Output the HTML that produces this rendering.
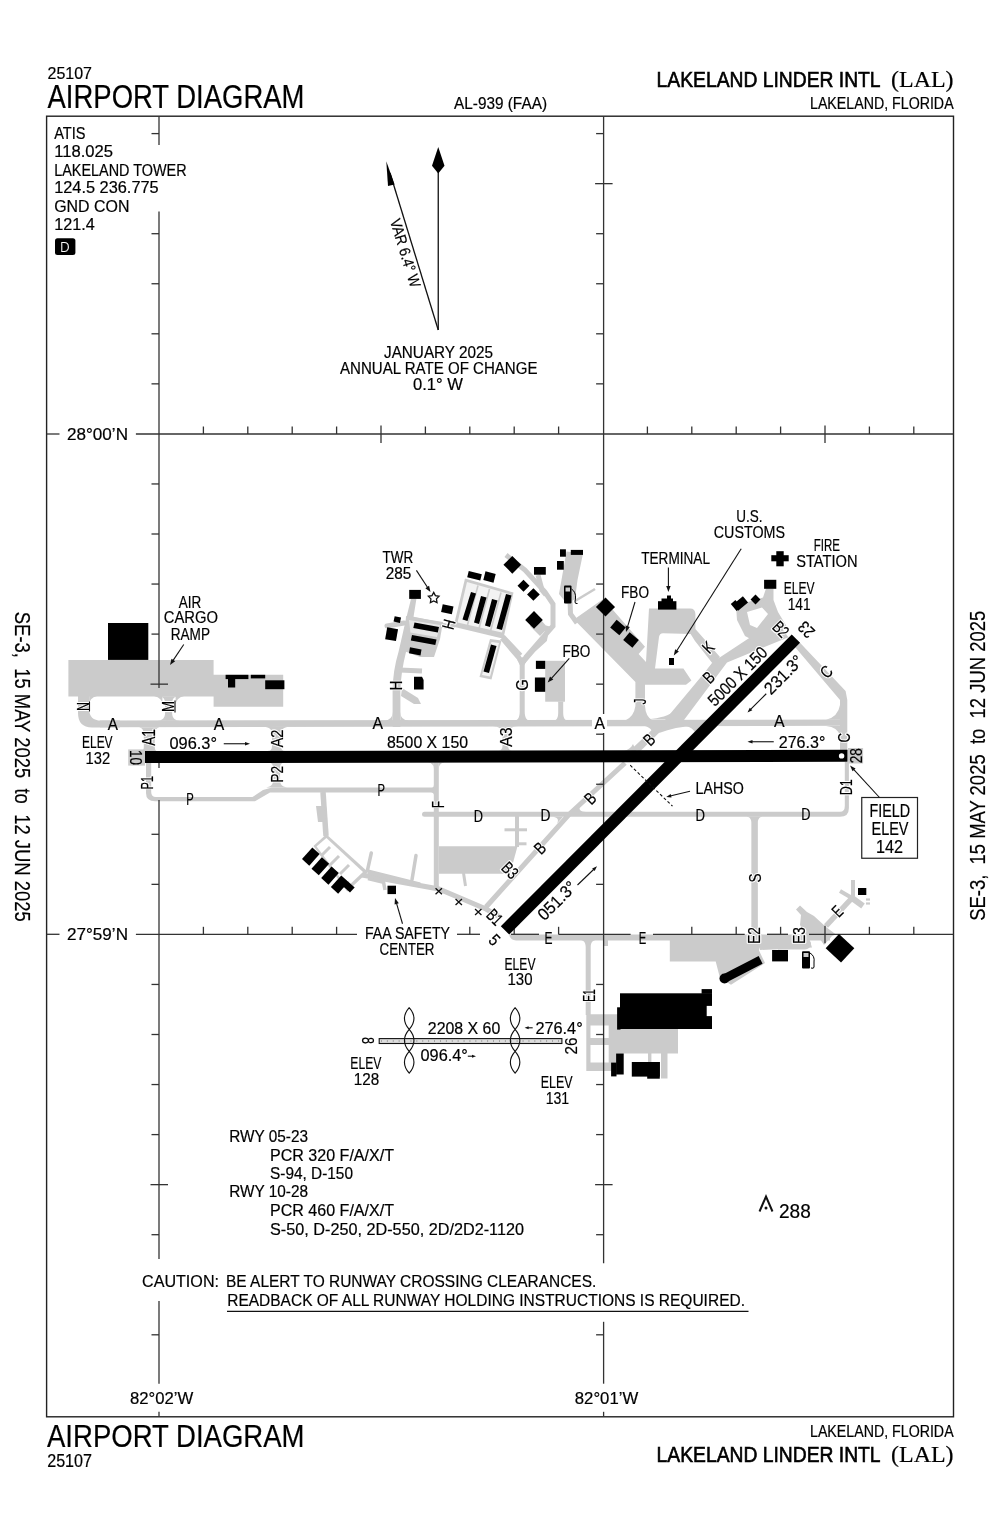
<!DOCTYPE html>
<html><head><meta charset="utf-8">
<style>
html,body{margin:0;padding:0;background:#fff;width:1000px;height:1533px;overflow:hidden}
svg{display:block;will-change:transform}
text{font-family:"Liberation Sans",sans-serif;fill:#000;stroke:#000;stroke-width:0.2px}
text.h{fill:#fff;stroke:#fff;stroke-width:2.6px;stroke-linejoin:round}
.g{fill:#cbcbcb}
.b{fill:#000}
.w{fill:#fff}
</style></head>
<body>
<svg width="1000" height="1533" viewBox="0 0 1000 1533">
<text x="47.5" y="78.5" font-size="17.3" textLength="44.5" lengthAdjust="spacingAndGlyphs">25107</text>
<text x="47.5" y="108.4" font-size="32.56" textLength="257.0" lengthAdjust="spacingAndGlyphs">AIRPORT DIAGRAM</text>
<text x="454" y="108.6" font-size="15.99" textLength="93" lengthAdjust="spacingAndGlyphs">AL-939 (FAA)</text>
<text x="656.6" y="87.2" font-size="22.67" textLength="224.0" lengthAdjust="spacingAndGlyphs" style="stroke-width:0.65px">LAKELAND LINDER INTL</text>
<text x="891" y="87.2" font-size="22.67" textLength="62.6" lengthAdjust="spacingAndGlyphs" style="font-family:'Liberation Serif',serif">(LAL)</text>
<text x="810" y="108.6" font-size="15.7" textLength="143.6" lengthAdjust="spacingAndGlyphs">LAKELAND, FLORIDA</text>
<text x="47" y="1447" font-size="31.25" textLength="257.5" lengthAdjust="spacingAndGlyphs">AIRPORT DIAGRAM</text>
<text x="47.2" y="1467" font-size="17.44" textLength="44.8" lengthAdjust="spacingAndGlyphs">25107</text>
<text x="810" y="1436.8" font-size="15.7" textLength="143.6" lengthAdjust="spacingAndGlyphs">LAKELAND, FLORIDA</text>
<text x="656.6" y="1461.6" font-size="22.67" textLength="224.0" lengthAdjust="spacingAndGlyphs" style="stroke-width:0.65px">LAKELAND LINDER INTL</text>
<text x="891" y="1461.6" font-size="22.67" textLength="62.6" lengthAdjust="spacingAndGlyphs" style="font-family:'Liberation Serif',serif">(LAL)</text>
<text transform="translate(14.6,611.8) rotate(90)" font-size="22.3" textLength="310" lengthAdjust="spacingAndGlyphs" xml:space="preserve">SE-3,  15 MAY 2025  to  12 JUN 2025</text>
<text transform="translate(985,920.8) rotate(-90)" font-size="21.5" textLength="310" lengthAdjust="spacingAndGlyphs" xml:space="preserve">SE-3,  15 MAY 2025  to  12 JUN 2025</text>
<rect x="46.6" y="116.2" width="906.9" height="1300.6" fill="none" stroke="#222" stroke-width="1.4"/>
<path d="M68.4,659.9 L213.6,659.9 L213.6,674.8 L283.2,674.8 L283.2,706.7 L213.6,706.7 L213.6,696.4 L68.4,696.4 Z" fill="#cbcbcb"/>
<path d="M78,690 L89.2,690 L89.2,709 Q89.2,720.6 101,720.6 L120,720.6 L120,727.4 L92,727.4 Q78,727.4 78,713 Z" fill="#cbcbcb"/>
<path d="M89.2,696 L97,696 Q89.2,698 89.2,705 Z" fill="#cbcbcb"/>
<path d="M162.4,696 L154,696 Q162.4,698 162.4,705 Z" fill="#cbcbcb"/>
<path d="M158.10,696.20 C162.65,696.20 165.10,698.65 165.10,703.20 L165.10,712.80 C165.10,718.00 162.30,720.80 157.10,720.80 L180.10,720.80 C174.90,720.80 172.10,718.00 172.10,712.80 L172.10,703.20 C172.10,698.65 174.55,696.20 179.10,696.20 Z" fill="#cbcbcb"/>
<path d="M175.6,696 L184,696 Q176,698 175.6,705 Z" fill="#cbcbcb"/>
<path d="M100,720.5713914174253 L846,719.6013003901171 L846,725.8020806241872 L100,727.3542262678803 Z" fill="#cbcbcb"/>
<path d="M137.80,727.30 C141.70,727.30 143.80,729.75 143.80,734.30 L143.80,747.30 C143.80,749.90 142.75,751.30 140.80,751.30 L157.80,751.30 C155.85,751.30 154.80,749.90 154.80,747.30 L154.80,734.30 C154.80,729.75 156.90,727.30 160.80,727.30 Z" fill="#cbcbcb"/>
<path d="M264.00,726.90 C269.20,726.90 272.00,729.35 272.00,733.90 L272.00,746.10 C272.00,749.35 270.60,751.10 268.00,751.10 L285.00,751.10 C282.40,751.10 281.00,749.35 281.00,746.10 L281.00,733.90 C281.00,729.35 283.80,726.90 289.00,726.90 Z" fill="#cbcbcb"/>
<path d="M492.55,726.20 C499.05,726.20 502.55,729.00 502.55,734.20 L502.55,745.60 C502.55,748.85 501.15,750.60 498.55,750.60 L512.05,750.60 C509.45,750.60 508.05,748.85 508.05,745.60 L508.05,734.20 C508.05,729.00 511.55,726.20 518.05,726.20 Z" fill="#cbcbcb"/>
<path d="M269.10,762.80 C271.70,762.80 273.10,764.55 273.10,767.80 L273.10,780.60 C273.10,785.15 269.95,787.60 264.10,787.60 L289.10,787.60 C283.25,787.60 280.10,785.15 280.10,780.60 L280.10,767.80 C280.10,764.55 281.50,762.80 284.10,762.80 Z" fill="#cbcbcb"/>
<path d="M146,763 L151.2,763 L151.2,792 Q151.2,797 156,797 L252.5,797 L263,790 L272,787.5 L432,787.5 Q433.8,787.5 433.8,785 L433.8,762.5 L438.8,762.5 L438.8,889 L433.8,889 L433.8,795 Q433.8,792.5 431,792.5 L270,792.5 L255,801.3 L155,801.3 Q146,801.3 146,793 Z" fill="#cbcbcb"/>
<path d="M428,762.5 Q433.8,763 433.8,769 L433.8,762.5 Z" fill="#cbcbcb"/>
<path d="M438.8,769 Q438.8,763 444.5,762.5 L438.8,762.5 Z" fill="#cbcbcb"/>
<path d="M128.2,749.4 L145,749.4 L145,765.6 L128.2,765.6 Z" fill="#cbcbcb"/>
<path d="M392.6,727 L392.6,690 Q393,670 398.5,652 L406.5,617 L411,599 L416.4,599 L413.5,617 L406,652 Q401,672 400.4,690 L400.4,727 Z" fill="#cbcbcb"/>
<path d="M384,721 L392.6,721 L392.6,712 Q392.6,720 384,721 Z" fill="#cbcbcb"/>
<path d="M400.4,712 Q400.4,720 409,721 L400.4,721 Z" fill="#cbcbcb"/>
<path d="M387.00,626.00 L404.00,623.00" fill="none" stroke="#cbcbcb" stroke-width="5" stroke-linecap="round" stroke-linejoin="miter"/>
<path d="M412.00,619.00 L446.00,626.00 L455.00,626.50" fill="none" stroke="#cbcbcb" stroke-width="5" stroke-linecap="butt" stroke-linejoin="miter"/>
<path d="M406,616 L443,622 L440,639 L434,657 L420,657 L404,651 Z" fill="#cbcbcb"/>
<path d="M409,620 L440,625 L437,637 L410.5,632.5 Z" fill="#fff" opacity="0.55"/>
<path d="M399.50,670.00 L422.00,671.00" fill="none" stroke="#cbcbcb" stroke-width="5" stroke-linecap="butt" stroke-linejoin="miter"/>
<path d="M402,688 L418,698 L421,704 L414,704 L401,696 Z" fill="#cbcbcb"/>
<path d="M465,578.5 L513.5,592.5 L504,636 L454,625 Z" fill="#cbcbcb"/>
<path d="M467,582 L510.5,594.5 L502,632.5 L457.5,622.5 Z" fill="#f3f3f3"/>
<path d="M478.00,585.50 L467.50,625.00" fill="none" stroke="#cbcbcb" stroke-width="1.6" stroke-linecap="butt" stroke-linejoin="miter"/>
<path d="M489.50,589.00 L479.00,628.50" fill="none" stroke="#cbcbcb" stroke-width="1.6" stroke-linecap="butt" stroke-linejoin="miter"/>
<path d="M501.00,592.50 L490.50,631.00" fill="none" stroke="#cbcbcb" stroke-width="1.6" stroke-linecap="butt" stroke-linejoin="miter"/>
<path d="M454.00,625.00 L504.00,637.00 L521.00,655.00" fill="none" stroke="#cbcbcb" stroke-width="3.6" stroke-linecap="butt" stroke-linejoin="miter"/>
<circle cx="522.2" cy="660.5" r="3.2" fill="#cbcbcb"/>
<path d="M490,639 L501.5,640.5 L491.5,679.5 L479.5,677 Z" fill="#cbcbcb"/>
<path d="M491.5,642 L499,643 L490,676.5 L482,675 Z" fill="#f3f3f3"/>
<path d="M513.70,660.00 C517.60,660.00 519.70,660.35 519.70,661.00 L519.70,711.80 C519.70,717.65 517.60,720.80 513.70,720.80 L530.70,720.80 C526.80,720.80 524.70,717.65 524.70,711.80 L524.70,661.00 C524.70,660.35 526.80,660.00 530.70,660.00 Z" fill="#cbcbcb"/>
<path d="M522.00,664.00 L519.00,658.00 L502.00,638.00" fill="none" stroke="#cbcbcb" stroke-width="5" stroke-linecap="butt" stroke-linejoin="miter"/>
<path d="M522.00,664.00 L526.00,657.00 L546.00,634.00 L553.00,626.00 L553.00,604.00 L545.00,592.00 L525.00,570.00 L506.00,555.00" fill="none" stroke="#cbcbcb" stroke-width="5" stroke-linecap="butt" stroke-linejoin="miter"/>
<path d="M522.00,664.00 L534.00,650.00 L545.00,640.00 L548.00,626.00" fill="none" stroke="#cbcbcb" stroke-width="4" stroke-linecap="butt" stroke-linejoin="miter"/>
<path d="M538.00,575.00 L542.00,590.00 L546.00,595.00" fill="none" stroke="#cbcbcb" stroke-width="5" stroke-linecap="butt" stroke-linejoin="miter"/>
<path d="M534,612 L548,628 L540,636 L530,626 Z" fill="#cbcbcb"/>
<path d="M566.5,551.5 L583,553.5 L577.5,580 L575,599 L567,604 L559,594 Z" fill="#cbcbcb"/>
<path d="M570.00,600.00 L570.50,614.00 L577.00,623.00" fill="none" stroke="#cbcbcb" stroke-width="5" stroke-linecap="butt" stroke-linejoin="miter"/>
<path d="M575.00,601.00 L595.00,589.00" fill="none" stroke="#cbcbcb" stroke-width="2.6" stroke-linecap="butt" stroke-linejoin="miter"/>
<rect x="545.20" y="660.80" width="19.80" height="40.90" class="g"/>
<path d="M557.20,701.50 C557.85,701.50 558.20,701.85 558.20,702.50 L558.20,712.80 C558.20,718.00 556.45,720.80 553.20,720.80 L568.20,720.80 C564.95,720.80 563.20,718.00 563.20,712.80 L563.20,702.50 C563.20,701.85 563.55,701.50 564.20,701.50 Z" fill="#cbcbcb"/>
<path d="M574,619.5 L596,604 L603.4,599 L645,646.8 L638.6,654 L646,662 L649,608.4 L690,608.4 Q695.4,608.4 695.4,614 L695.4,629 L720,657 L713,664 L695,641 L690.6,634 L663,633.2 Q659.5,633.2 659,637 L655,668.4 L683.4,668.4 L691.4,680.4 L686,684.8 L645,684.8 L645,706 Q645.5,716 652,720 L626,720 Q634,716 635.4,706 L635.4,682 L574,619.5 Z" fill="#cbcbcb"/>
<path d="M665,720 L684,720 L727,662.4 L788.4,637.2 L776,620.4 L714,661.2 Z" fill="#cbcbcb"/>
<path d="M672.50,722.00 L720.00,660.00" fill="none" stroke="#cbcbcb" stroke-width="9" stroke-linecap="butt" stroke-linejoin="miter"/>
<path d="M630,750.6 L641,750.6 L666,725.9 L656,725.9 Z" fill="#cbcbcb"/>
<path d="M645,725.9 L657,725.9 L652,731 C650,728 648,726.5 645,725.9 Z" fill="#cbcbcb"/>
<path d="M662,725.9 L693,725.9 C682,726.5 670,728.5 659,733 Z" fill="#cbcbcb"/>
<path d="M644,719.6 L668,719.6 L673,712 C666,717 656,718.8 644,719.6 Z" fill="#cbcbcb"/>
<path d="M624,750.6 L636,750.6 L633,744 C631,748 628,750 624,750.6 Z" fill="#cbcbcb"/>
<path d="M686,725.9 L703,725.9 L702,734 L696,734 C694,729 690,727 686,725.9 Z" fill="#cbcbcb"/>
<path d="M736,606 L748,602 L763,597.5 L766,588.5 L773.5,588.5 L773.5,600 L778,612 L787,627 L760,644 L745,636 L737,620 Z M747,612 L762,607.5 L768,614 L757,628 L750,625 Z" fill="#cbcbcb" fill-rule="evenodd"/>
<path d="M795,646.9 L800,642.8 L845.6,691 L847.3,700 L847.3,751 L840,751 L840,700 Z" fill="#cbcbcb"/>
<path d="M826,719.8 Q838,717 840,705 L840,719.8 Z" fill="#cbcbcb"/>
<path d="M826,725.9 L840,725.9 L840,736 Q838,727 826,725.9 Z" fill="#cbcbcb"/>
<path d="M433.8,811.8 L840,811.8 Q844.8,811.8 844.8,806 L844.8,762 L848.9,762 L848.9,808 Q848.9,816.8 840,816.8 L433.8,816.8 Z" fill="#cbcbcb"/>
<path d="M424.50,814.30 L434.00,814.30" fill="none" stroke="#cbcbcb" stroke-width="5" stroke-linecap="round" stroke-linejoin="miter"/>
<path d="M625.00,763.00 L568.50,815.00 L486.00,907.00" fill="none" stroke="#cbcbcb" stroke-width="5" stroke-linecap="butt" stroke-linejoin="miter"/>
<path d="M574,811.9 L586,811.9 C580,811.9 578,809 580.5,805.5 Z" fill="#cbcbcb"/>
<path d="M563,816.8 L551,816.8 C557,816.8 559.5,819.5 557,823.5 Z" fill="#cbcbcb"/>
<path d="M438.8,846.3 L517.5,846.3 L510,873.8 L438.8,873.8 Z" fill="#cbcbcb"/>
<path d="M504.50,829.80 L527.00,829.80" fill="none" stroke="#cbcbcb" stroke-width="3" stroke-linecap="butt" stroke-linejoin="miter"/>
<path d="M517.00,843.80 L526.50,843.80" fill="none" stroke="#cbcbcb" stroke-width="3" stroke-linecap="butt" stroke-linejoin="miter"/>
<path d="M517.00,816.00 L517.00,847.00" fill="none" stroke="#cbcbcb" stroke-width="4" stroke-linecap="butt" stroke-linejoin="miter"/>
<path d="M463.50,873.00 L465.50,886.00" fill="none" stroke="#cbcbcb" stroke-width="3" stroke-linecap="butt" stroke-linejoin="miter"/>
<path d="M362.00,875.00 L438.80,889.00 L486.00,909.00 L500.00,917.00" fill="none" stroke="#cbcbcb" stroke-width="5" stroke-linecap="butt" stroke-linejoin="miter"/>
<path d="M367.40,870.70 L371.30,853.00" fill="none" stroke="#cbcbcb" stroke-width="3.5" stroke-linecap="round" stroke-linejoin="miter"/>
<path d="M412.00,879.80 L416.00,855.50" fill="none" stroke="#cbcbcb" stroke-width="3.5" stroke-linecap="round" stroke-linejoin="miter"/>
<path d="M368.00,878.50 L383.60,882.40 L385.00,890.00" fill="none" stroke="#cbcbcb" stroke-width="3.5" stroke-linecap="butt" stroke-linejoin="miter"/>
<path d="M313.4,846 L326.4,834.3 L368,872 L347.2,891.5 Z" fill="#cbcbcb"/>
<path d="M316.5,846.5 L326.4,838 L363,872 L347.2,887 Z" fill="#fff"/>
<path d="M330.00,847.00 L321.00,856.00" fill="none" stroke="#cbcbcb" stroke-width="3" stroke-linecap="butt" stroke-linejoin="miter"/>
<path d="M339.00,856.00 L330.00,865.00" fill="none" stroke="#cbcbcb" stroke-width="3" stroke-linecap="butt" stroke-linejoin="miter"/>
<path d="M349.00,865.00 L340.00,874.00" fill="none" stroke="#cbcbcb" stroke-width="3" stroke-linecap="butt" stroke-linejoin="miter"/>
<path d="M368.00,872.00 L420.00,885.00" fill="none" stroke="#cbcbcb" stroke-width="5" stroke-linecap="butt" stroke-linejoin="miter"/>
<path d="M323.00,792.00 L326.00,836.00" fill="none" stroke="#cbcbcb" stroke-width="5.5" stroke-linecap="butt" stroke-linejoin="miter"/>
<path d="M316,806 L324,806 L326,822 L318,822 Z" fill="#cbcbcb"/>
<path d="M745.35,816.50 C749.25,816.50 751.35,818.60 751.35,822.50 L751.35,928.80 C751.35,932.70 749.25,934.80 745.35,934.80 L763.85,934.80 C759.95,934.80 757.85,932.70 757.85,928.80 L757.85,822.50 C757.85,818.60 759.95,816.50 763.85,816.50 Z" fill="#cbcbcb"/>
<path d="M509.5,934.5 L830,934.5 L830,940.5 L516,940.5 Q511,940 509.5,936 Z" fill="#cbcbcb"/>
<path d="M579.70,940.00 C583.60,940.00 585.70,942.45 585.70,947.00 L585.70,1014.99 C585.70,1015.00 585.70,1015.00 585.69,1015.00 L590.71,1015.00 C590.70,1015.00 590.70,1015.00 590.70,1014.99 L590.70,947.00 C590.70,942.45 592.80,940.00 596.70,940.00 Z" fill="#cbcbcb"/>
<path d="M603.7,940 L608,940 L608,946 L603.7,946 Z" fill="#cbcbcb"/>
<path d="M669.8,936.6 L759,936.6 L759,950.6 L765,963 L731,984.7 L720,978 L715.7,961.4 L669.8,961.4 Z" fill="#cbcbcb"/>
<path d="M756,938 L809,938 L812,947.5 L760,950 Z" fill="#cbcbcb"/>
<path d="M796,909.5 L800,905.5 L807,912 L814,916 L826,927 L836,934.5 L832,936 L824,945 L818,936 L806,935 L800,925 L801,915 Z" fill="#cbcbcb"/>
<path d="M826.00,926.00 L852.00,898.00" fill="none" stroke="#cbcbcb" stroke-width="5.5" stroke-linecap="butt" stroke-linejoin="miter"/>
<path d="M853.00,898.00 L853.00,880.00" fill="none" stroke="#cbcbcb" stroke-width="4" stroke-linecap="butt" stroke-linejoin="miter"/>
<path d="M840.00,891.00 L852.00,898.00" fill="none" stroke="#cbcbcb" stroke-width="4" stroke-linecap="butt" stroke-linejoin="miter"/>
<path d="M852.00,898.00 L863.00,906.00" fill="none" stroke="#cbcbcb" stroke-width="6" stroke-linecap="butt" stroke-linejoin="miter"/>
<path d="M866.00,899.50 L870.00,899.50" fill="none" stroke="#cbcbcb" stroke-width="2.2" stroke-linecap="butt" stroke-linejoin="miter"/>
<path d="M866.00,903.50 L870.00,903.50" fill="none" stroke="#cbcbcb" stroke-width="2.2" stroke-linecap="butt" stroke-linejoin="miter"/>
<path d="M778,938.5 L806,938.5 Q811,940 811,944 Q810,949 805,949.5 L778,949.5 Z" fill="#cbcbcb"/>
<path d="M586.3,1014.3 L678,1014.3 L678,1053.5 L667.5,1053.5 L667.5,1078.5 L661,1078.5 L661,1053.5 L651.4,1053.5 L651.4,1062 L648,1062 L648,1053.5 L616,1053.5 L616,1071 L586.3,1071 Z M590.5,1025.5 L608.7,1025.5 L608.7,1038 L590.5,1038 Z M590.5,1045 L608.7,1045 L608.7,1062.6 L590.5,1062.6 Z" fill="#cbcbcb" fill-rule="evenodd"/>
<g stroke="#333" stroke-width="1.3" fill="none"><line x1="159" y1="116" x2="159" y2="145"/><line x1="159" y1="211.5" x2="159" y2="688"/><line x1="159" y1="763" x2="159" y2="768"/><line x1="159" y1="800" x2="159" y2="1259"/><line x1="159" y1="1301" x2="159" y2="1383.7"/><line x1="159" y1="1411.8" x2="159" y2="1417"/><line x1="603.6" y1="116" x2="603.6" y2="1263.3"/><line x1="603.6" y1="1321.8" x2="603.6" y2="1383.7"/><line x1="603.6" y1="1411.8" x2="603.6" y2="1417"/><line x1="46.6" y1="434" x2="59.5" y2="434"/><line x1="135.9" y1="434" x2="953.5" y2="434"/><line x1="46.6" y1="934.3" x2="59.5" y2="934.3"/><line x1="135.9" y1="934.3" x2="357" y2="934.3"/><line x1="457" y1="934.3" x2="480" y2="934.3"/><line x1="511" y1="934.3" x2="539" y2="934.3"/><line x1="558.5" y1="934.3" x2="630.6" y2="934.3"/><line x1="653" y1="934.3" x2="744.7" y2="934.3"/><line x1="767" y1="934.3" x2="788" y2="934.3"/><line x1="809" y1="934.3" x2="953.5" y2="934.3"/><line x1="151.5" y1="133.6" x2="159" y2="133.6"/><line x1="151.5" y1="233.7" x2="159" y2="233.7"/><line x1="151.5" y1="283.75" x2="159" y2="283.75"/><line x1="151.5" y1="333.8" x2="159" y2="333.8"/><line x1="151.5" y1="383.85" x2="159" y2="383.85"/><line x1="151.5" y1="483.95" x2="159" y2="483.95"/><line x1="151.5" y1="534.0" x2="159" y2="534.0"/><line x1="151.5" y1="584.05" x2="159" y2="584.05"/><line x1="151.5" y1="634.1" x2="159" y2="634.1"/><line x1="150.5" y1="684.15" x2="168" y2="684.15"/><line x1="151.5" y1="834.3" x2="159" y2="834.3"/><line x1="151.5" y1="884.35" x2="159" y2="884.35"/><line x1="151.5" y1="984.45" x2="159" y2="984.45"/><line x1="151.5" y1="1034.5" x2="159" y2="1034.5"/><line x1="151.5" y1="1084.55" x2="159" y2="1084.55"/><line x1="151.5" y1="1134.6" x2="159" y2="1134.6"/><line x1="150.5" y1="1184.65" x2="168" y2="1184.65"/><line x1="151.5" y1="1234.7" x2="159" y2="1234.7"/><line x1="151.5" y1="1334.8" x2="159" y2="1334.8"/><line x1="596.1" y1="133.6" x2="603.6" y2="133.6"/><line x1="595.1" y1="183.65" x2="612.6" y2="183.65"/><line x1="596.1" y1="233.7" x2="603.6" y2="233.7"/><line x1="596.1" y1="283.75" x2="603.6" y2="283.75"/><line x1="596.1" y1="333.8" x2="603.6" y2="333.8"/><line x1="596.1" y1="383.85" x2="603.6" y2="383.85"/><line x1="596.1" y1="483.95" x2="603.6" y2="483.95"/><line x1="596.1" y1="534.0" x2="603.6" y2="534.0"/><line x1="596.1" y1="584.05" x2="603.6" y2="584.05"/><line x1="596.1" y1="634.1" x2="603.6" y2="634.1"/><line x1="596.1" y1="684.15" x2="603.6" y2="684.15"/><line x1="596.1" y1="734.2" x2="603.6" y2="734.2"/><line x1="596.1" y1="784.25" x2="603.6" y2="784.25"/><line x1="596.1" y1="834.3" x2="603.6" y2="834.3"/><line x1="596.1" y1="884.35" x2="603.6" y2="884.35"/><line x1="596.1" y1="984.45" x2="603.6" y2="984.45"/><line x1="596.1" y1="1034.5" x2="603.6" y2="1034.5"/><line x1="596.1" y1="1084.55" x2="603.6" y2="1084.55"/><line x1="596.1" y1="1134.6" x2="603.6" y2="1134.6"/><line x1="595.1" y1="1184.65" x2="612.6" y2="1184.65"/><line x1="596.1" y1="1234.7" x2="603.6" y2="1234.7"/><line x1="596.1" y1="1334.8" x2="603.6" y2="1334.8"/><line x1="203.4" y1="426.5" x2="203.4" y2="434"/><line x1="247.8" y1="426.5" x2="247.8" y2="434"/><line x1="292.2" y1="426.5" x2="292.2" y2="434"/><line x1="336.6" y1="426.5" x2="336.6" y2="434"/><line x1="381.0" y1="425.5" x2="381.0" y2="443"/><line x1="425.4" y1="426.5" x2="425.4" y2="434"/><line x1="469.8" y1="426.5" x2="469.8" y2="434"/><line x1="514.2" y1="426.5" x2="514.2" y2="434"/><line x1="558.6" y1="426.5" x2="558.6" y2="434"/><line x1="647.4" y1="426.5" x2="647.4" y2="434"/><line x1="691.8" y1="426.5" x2="691.8" y2="434"/><line x1="736.2" y1="426.5" x2="736.2" y2="434"/><line x1="780.6" y1="426.5" x2="780.6" y2="434"/><line x1="825.0" y1="425.5" x2="825.0" y2="443"/><line x1="869.4" y1="426.5" x2="869.4" y2="434"/><line x1="913.8" y1="426.5" x2="913.8" y2="434"/><line x1="203.4" y1="926.8" x2="203.4" y2="934.3"/><line x1="247.8" y1="926.8" x2="247.8" y2="934.3"/><line x1="292.2" y1="926.8" x2="292.2" y2="934.3"/><line x1="336.6" y1="926.8" x2="336.6" y2="934.3"/><line x1="469.8" y1="926.8" x2="469.8" y2="934.3"/><line x1="514.2" y1="926.8" x2="514.2" y2="934.3"/><line x1="558.6" y1="926.8" x2="558.6" y2="934.3"/><line x1="691.8" y1="926.8" x2="691.8" y2="934.3"/><line x1="736.2" y1="926.8" x2="736.2" y2="934.3"/><line x1="780.6" y1="926.8" x2="780.6" y2="934.3"/><line x1="825.0" y1="925.8" x2="825.0" y2="943.3"/><line x1="869.4" y1="926.8" x2="869.4" y2="934.3"/><line x1="913.8" y1="926.8" x2="913.8" y2="934.3"/></g>
<rect x="108.00" y="623.00" width="40.30" height="36.90" class="b"/>
<rect x="225.60" y="674.80" width="22.80" height="4.30" class="b"/>
<rect x="228.00" y="679.00" width="7.20" height="8.50" class="b"/>
<rect x="250.80" y="674.80" width="14.40" height="3.60" class="b"/>
<rect x="265.20" y="680.30" width="19.20" height="8.90" class="b"/>
<polygon points="145,751.10 847.5,749.80 847.5,761.80 145,763.10" fill="#000"/>
<circle cx="841.6" cy="755.9" r="2.7" fill="#fff"/>
<path d="M848,748 L863.1,748 L863.1,763.5 L848,763.5 Z" fill="#cbcbcb"/>
<polygon points="509.18,934.57 800.08,642.87 791.72,634.53 500.82,926.23" fill="#000"/>
<rect x="409.20" y="589.90" width="11.70" height="9.00" class="b"/>
<rect x="-5.50" y="-4.00" width="11.00" height="8.00" transform="translate(447.30,609.20) rotate(12)" fill="#000"/>
<rect x="-3.25" y="-2.75" width="6.50" height="5.50" transform="translate(397.30,619.60) rotate(12)" fill="#000"/>
<rect x="-5.50" y="-6.00" width="11.00" height="12.00" transform="translate(391.60,634.20) rotate(10)" fill="#000"/>
<polygon points="414.50,622.50 439.00,627.00 437.80,632.50 413.30,628.00" fill="#000"/>
<polygon points="412.00,635.00 436.50,639.50 435.30,645.00 410.80,640.50" fill="#000"/>
<polygon points="410.00,647.20 421.50,649.50 420.50,655.50 409.00,653.20" fill="#000"/>
<polygon points="414.00,676.80 422.00,676.80 423.60,680.00 423.60,689.60 414.00,689.60" fill="#000"/>
<polygon points="471.00,592.00 476.00,593.50 467.50,621.00 462.50,619.50" fill="#000"/>
<polygon points="481.00,596.00 486.50,597.50 479.00,624.00 474.00,622.50" fill="#000"/>
<polygon points="492.00,599.00 497.50,600.50 490.00,627.00 485.00,625.50" fill="#000"/>
<polygon points="506.00,594.00 511.50,595.50 502.00,630.00 496.50,628.50" fill="#000"/>
<polygon points="491.00,644.50 496.50,646.00 489.00,673.00 483.50,671.50" fill="#000"/>
<rect x="-6.75" y="-3.25" width="13.50" height="6.50" transform="translate(474.50,575.80) rotate(14)" fill="#000"/>
<rect x="-5.25" y="-4.50" width="10.50" height="9.00" transform="translate(489.50,577.00) rotate(14)" fill="#000"/>
<rect x="-6.25" y="-6.25" width="12.50" height="12.50" transform="translate(512.30,564.80) rotate(45)" fill="#000"/>
<rect x="-4.25" y="-4.25" width="8.50" height="8.50" transform="translate(523.50,585.80) rotate(45)" fill="#000"/>
<rect x="-4.50" y="-4.50" width="9.00" height="9.00" transform="translate(533.40,594.50) rotate(45)" fill="#000"/>
<rect x="-6.25" y="-6.25" width="12.50" height="12.50" transform="translate(534.00,619.90) rotate(45)" fill="#000"/>
<rect x="534.00" y="567.00" width="11.80" height="7.70" class="b"/>
<rect x="560.00" y="549.30" width="5.90" height="7.40" class="b"/>
<rect x="570.80" y="549.90" width="12.20" height="5.00" class="b"/>
<rect x="557.00" y="561.00" width="6.80" height="8.70" class="b"/>
<rect x="564" y="585.5" width="7.5" height="18" rx="1" fill="#000"/>
<rect x="565.5" y="587.5" width="4.5" height="4" fill="#ccc"/>
<path d="M571.5,589 Q576,592 575.5,598 L575,602 Q575,604 577.5,603.5" fill="none" stroke="#000" stroke-width="1"/>
<rect x="535.90" y="660.80" width="9.30" height="8.10" class="b"/>
<rect x="534.90" y="677.50" width="10.30" height="14.30" class="b"/>
<rect x="-6.75" y="-6.75" width="13.50" height="13.50" transform="translate(605.50,607.00) rotate(45)" fill="#000"/>
<rect x="-6.00" y="-5.00" width="12.00" height="10.00" transform="translate(618.00,627.50) rotate(40)" fill="#000"/>
<rect x="-6.00" y="-5.00" width="12.00" height="10.00" transform="translate(631.00,640.00) rotate(40)" fill="#000"/>
<rect x="658.00" y="601.20" width="18.40" height="8.40" class="b"/>
<rect x="661.50" y="598.50" width="11.50" height="4.50" class="b"/>
<rect x="667.00" y="595.50" width="4.00" height="3.50" class="b"/>
<rect x="669.00" y="658.00" width="5.00" height="7.00" class="b"/>
<rect x="764.10" y="579.80" width="12.20" height="9.00" class="b"/>
<rect x="-6.50" y="-4.00" width="13.00" height="8.00" transform="translate(740.50,603.50) rotate(-40)" fill="#000"/>
<rect x="-3.00" y="-4.50" width="6.00" height="9.00" transform="translate(736.00,605.50) rotate(-40)" fill="#000"/>
<rect x="-3.50" y="-3.50" width="7.00" height="7.00" transform="translate(755.50,599.50) rotate(45)" fill="#000"/>
<rect x="771.30" y="555.20" width="17.40" height="6.10" class="b"/>
<rect x="776.30" y="551.20" width="7.40" height="15.10" class="b"/>
<rect x="-7.75" y="-4.90" width="15.50" height="9.80" transform="translate(310.80,856.60) rotate(-48)" fill="#000"/>
<rect x="-7.75" y="-4.90" width="15.50" height="9.80" transform="translate(320.30,866.20) rotate(-48)" fill="#000"/>
<rect x="-7.75" y="-4.90" width="15.50" height="9.80" transform="translate(330.00,875.60) rotate(-48)" fill="#000"/>
<rect x="-7.75" y="-4.90" width="15.50" height="9.80" transform="translate(339.70,884.60) rotate(-48)" fill="#000"/>
<rect x="-3.50" y="-4.50" width="7.00" height="9.00" transform="translate(349.00,887.00) rotate(-48)" fill="#000"/>
<rect x="387.50" y="885.70" width="8.50" height="8.40" class="b"/>
<path d="M760.6,959.9 L723.4,979.1" stroke="#000" stroke-width="8.5" stroke-linecap="butt"/>
<circle cx="724.5" cy="978.5" r="5" fill="#000"/>
<rect x="772.10" y="950.00" width="15.90" height="11.40" class="b"/>
<rect x="-10.50" y="-9.75" width="21.00" height="19.50" transform="translate(840.00,948.20) rotate(43)" fill="#000"/>
<rect x="620.00" y="993.30" width="92.00" height="35.70" class="b"/>
<rect x="617.10" y="1007.30" width="3.40" height="22.30" class="b"/>
<rect x="701.60" y="989.10" width="10.40" height="4.70" class="b"/>
<rect x="706.7" y="1005.9" width="5.5" height="10.2" fill="#fff"/>
<rect x="616.10" y="1053.50" width="7.60" height="21.00" class="b"/>
<rect x="611.10" y="1062.60" width="5.40" height="13.80" class="b"/>
<rect x="631.80" y="1062.00" width="28.00" height="14.60" class="b"/>
<rect x="647.20" y="1062.00" width="12.60" height="16.70" class="b"/>
<rect x="858.00" y="888.00" width="8.30" height="7.00" class="b"/>
<rect x="802" y="951.2" width="8" height="17.4" rx="1" fill="#000"/>
<rect x="803.5" y="953" width="5" height="4" fill="#ccc"/>
<path d="M810,953 Q815,956 814,962 L814,967 Q814,969 811,968" fill="none" stroke="#000" stroke-width="1"/>
<text x="54.2" y="139.2" font-size="15.84" textLength="31.3" lengthAdjust="spacingAndGlyphs">ATIS</text>
<text x="54.2" y="157.3" font-size="15.84" textLength="58.8" lengthAdjust="spacingAndGlyphs">118.025</text>
<text x="54.2" y="175.5" font-size="15.99" textLength="132.4" lengthAdjust="spacingAndGlyphs">LAKELAND TOWER</text>
<text x="54.2" y="193.3" font-size="15.84" textLength="104.5" lengthAdjust="spacingAndGlyphs">124.5 236.775</text>
<text x="54.2" y="211.6" font-size="15.99" textLength="75.3" lengthAdjust="spacingAndGlyphs">GND CON</text>
<text x="54.2" y="229.9" font-size="16.13" textLength="40.6" lengthAdjust="spacingAndGlyphs">121.4</text>
<rect x="55" y="238.3" width="20.4" height="16.7" rx="2.5" fill="#000"/>
<text x="60" y="252" font-size="15" textLength="9.7" lengthAdjust="spacingAndGlyphs" style="fill:#fff">D</text>
<line x1="438.25" y1="172.00" x2="438.25" y2="330.00" stroke="#111" stroke-width="1.3"/>
<polygon points="438.25,147.00 444.50,165.80 438.25,173.50 432.00,165.80" class="b"/>
<line x1="438.25" y1="330.00" x2="390.00" y2="173.00" stroke="#111" stroke-width="1.3"/>
<polygon points="386.30,161.20 394.60,184.50 388.00,186.00" class="b"/>
<text transform="translate(405.3,253) rotate(72.9)" x="0" y="5.3" font-size="15.5" text-anchor="middle" textLength="71" lengthAdjust="spacingAndGlyphs">VAR 6.4° W</text>
<text x="384" y="357.5" font-size="16.72" textLength="109" lengthAdjust="spacingAndGlyphs">JANUARY 2025</text>
<text x="340" y="373.8" font-size="16.42" textLength="197.5" lengthAdjust="spacingAndGlyphs">ANNUAL RATE OF CHANGE</text>
<text x="413" y="390" font-size="16.28" textLength="50" lengthAdjust="spacingAndGlyphs">0.1° W</text>
<text x="67" y="439.5" font-size="15.99" textLength="61" lengthAdjust="spacingAndGlyphs">28°00’N</text>
<text x="67" y="939.8" font-size="15.99" textLength="61" lengthAdjust="spacingAndGlyphs">27°59’N</text>
<text x="130" y="1404.4" font-size="16.57" textLength="63.3" lengthAdjust="spacingAndGlyphs">82°02’W</text>
<text x="574.8" y="1404.4" font-size="16.57" textLength="63.4" lengthAdjust="spacingAndGlyphs">82°01’W</text>
<text x="229.2" y="1142" font-size="16.28" textLength="78.8" lengthAdjust="spacingAndGlyphs">RWY 05-23</text>
<text x="270" y="1160.8" font-size="16.28" textLength="124" lengthAdjust="spacingAndGlyphs">PCR 320 F/A/X/T</text>
<text x="270" y="1178.8" font-size="16.28" textLength="83" lengthAdjust="spacingAndGlyphs">S-94, D-150</text>
<text x="229.2" y="1197.2" font-size="16.28" textLength="78.8" lengthAdjust="spacingAndGlyphs">RWY 10-28</text>
<text x="270" y="1216" font-size="16.28" textLength="124" lengthAdjust="spacingAndGlyphs">PCR 460 F/A/X/T</text>
<text x="270" y="1234.8" font-size="16.28" textLength="254" lengthAdjust="spacingAndGlyphs">S-50, D-250, 2D-550, 2D/2D2-1120</text>
<text x="142" y="1286.8" font-size="17.15" textLength="77" lengthAdjust="spacingAndGlyphs">CAUTION:</text>
<text x="226" y="1286.8" font-size="17.15" textLength="370.3" lengthAdjust="spacingAndGlyphs">BE ALERT TO RUNWAY CROSSING CLEARANCES.</text>
<text x="227.2" y="1306" font-size="17.15" textLength="517.8" lengthAdjust="spacingAndGlyphs">READBACK OF ALL RUNWAY HOLDING INSTRUCTIONS IS REQUIRED.</text>
<line x1="227.00" y1="1311.30" x2="748.50" y2="1311.30" stroke="#111" stroke-width="1.2"/>
<path d="M759.5,1211.5 L766,1196.5 L772.5,1211.5" fill="none" stroke="#111" stroke-width="2"/>
<circle cx="766" cy="1208" r="1.5" fill="#111"/>
<text x="779" y="1217.8" font-size="19.33" textLength="31.8" lengthAdjust="spacingAndGlyphs">288</text>
<text x="178.75" y="607.9" font-size="17.15" textLength="22.5" lengthAdjust="spacingAndGlyphs">AIR</text>
<text x="163.75" y="623.4" font-size="17.15" textLength="54.25" lengthAdjust="spacingAndGlyphs">CARGO</text>
<text x="170.75" y="639.9" font-size="17.15" textLength="39.25" lengthAdjust="spacingAndGlyphs">RAMP</text>
<line x1="183.75" y1="644.50" x2="172.79" y2="660.85" stroke="#111" stroke-width="1.1"/>
<polygon points="170.00,665.00 171.52,658.79 175.17,661.24" fill="#111"/>
<text x="382.5" y="562.8" font-size="17.15" textLength="30.7" lengthAdjust="spacingAndGlyphs">TWR</text>
<text x="385.7" y="578.8" font-size="17.15" textLength="25.6" lengthAdjust="spacingAndGlyphs">285</text>
<line x1="416.40" y1="570.40" x2="427.77" y2="587.81" stroke="#111" stroke-width="1.1"/>
<polygon points="430.50,592.00 425.38,588.18 429.06,585.77" fill="#111"/>
<text x="562.5" y="656.9" font-size="17.15" textLength="27.9" lengthAdjust="spacingAndGlyphs">FBO</text>
<line x1="569.30" y1="658.30" x2="551.03" y2="678.77" stroke="#111" stroke-width="1.1"/>
<polygon points="547.70,682.50 550.05,676.56 553.34,679.49" fill="#111"/>
<text x="621" y="598.4" font-size="17.15" textLength="28" lengthAdjust="spacingAndGlyphs">FBO</text>
<line x1="635.00" y1="602.00" x2="627.44" y2="627.21" stroke="#111" stroke-width="1.1"/>
<polygon points="626.00,632.00 625.62,625.62 629.83,626.89" fill="#111"/>
<text x="641.25" y="564.15" font-size="17.15" textLength="68.75" lengthAdjust="spacingAndGlyphs">TERMINAL</text>
<line x1="668.40" y1="567.50" x2="668.40" y2="587.00" stroke="#111" stroke-width="1.1"/>
<polygon points="668.40,592.00 666.20,586.00 670.60,586.00" fill="#111"/>
<text x="736.25" y="522.4" font-size="17.15" textLength="26.25" lengthAdjust="spacingAndGlyphs">U.S.</text>
<text x="713.75" y="538.4" font-size="17.15" textLength="71.25" lengthAdjust="spacingAndGlyphs">CUSTOMS</text>
<line x1="741.20" y1="548.80" x2="676.47" y2="651.27" stroke="#111" stroke-width="1.1"/>
<polygon points="673.80,655.50 675.14,649.25 678.86,651.60" fill="#111"/>
<text x="813.75" y="551.15" font-size="17.15" textLength="26.25" lengthAdjust="spacingAndGlyphs">FIRE</text>
<text x="796.25" y="566.65" font-size="17.15" textLength="61.25" lengthAdjust="spacingAndGlyphs">STATION</text>
<text x="783.7" y="594.3" font-size="17.15" textLength="30.9" lengthAdjust="spacingAndGlyphs">ELEV</text>
<text x="787.7" y="609.8" font-size="17.15" textLength="22.9" lengthAdjust="spacingAndGlyphs">141</text>
<text x="82" y="748.0" font-size="17.15" textLength="30.6" lengthAdjust="spacingAndGlyphs">ELEV</text>
<text x="85.6" y="764.2" font-size="17.15" textLength="24.6" lengthAdjust="spacingAndGlyphs">132</text>
<text x="107.8" y="729.7" font-size="17.15" textLength="10.2" lengthAdjust="spacingAndGlyphs">A</text>
<text x="213.75" y="730.4" font-size="17.15" textLength="10.5" lengthAdjust="spacingAndGlyphs">A</text>
<text x="372.5" y="729.2" font-size="17.15" textLength="10.5" lengthAdjust="spacingAndGlyphs">A</text>
<rect x="592.00" y="714.00" width="15.00" height="19.00" class="w"/>
<text x="594.5" y="729.2" font-size="17.15" textLength="10.5" lengthAdjust="spacingAndGlyphs">A</text>
<text x="773.9" y="727.2" font-size="17.15" textLength="10.6" lengthAdjust="spacingAndGlyphs">A</text>
<text x="169.5" y="748.9" font-size="17.15" textLength="47.5" lengthAdjust="spacingAndGlyphs">096.3°</text>
<line x1="223.75" y1="743.75" x2="246.00" y2="743.75" stroke="#111" stroke-width="1.1"/>
<polygon points="250.00,743.75 245.00,745.55 245.00,741.95" fill="#111"/>
<text x="387" y="747.9" font-size="17.15" textLength="81" lengthAdjust="spacingAndGlyphs">8500 X 150</text>
<text x="778.8" y="747.6" font-size="17.15" textLength="46.5" lengthAdjust="spacingAndGlyphs">276.3°</text>
<line x1="773.75" y1="741.75" x2="751.50" y2="741.75" stroke="#111" stroke-width="1.1"/>
<polygon points="747.50,741.75 752.50,739.95 752.50,743.55" fill="#111"/>
<text x="186.25" y="805.4" font-size="17.15" textLength="7.5" lengthAdjust="spacingAndGlyphs">P</text>
<text x="377.5" y="795.9" font-size="17.15" textLength="7.5" lengthAdjust="spacingAndGlyphs">P</text>
<text x="473.75" y="821.6" font-size="17.15" textLength="9.25" lengthAdjust="spacingAndGlyphs">D</text>
<text x="540.5" y="820.9" font-size="17.15" textLength="10.0" lengthAdjust="spacingAndGlyphs">D</text>
<text x="695.5" y="820.9" font-size="17.15" textLength="9.5" lengthAdjust="spacingAndGlyphs">D</text>
<text x="801.25" y="820.2" font-size="17.15" textLength="9.25" lengthAdjust="spacingAndGlyphs">D</text>
<text x="544.5" y="943.9" font-size="17.15" textLength="8.0" lengthAdjust="spacingAndGlyphs">E</text>
<text x="638.75" y="943.9" font-size="17.15" textLength="7.5" lengthAdjust="spacingAndGlyphs">E</text>
<text x="695.5" y="793.9" font-size="17.15" textLength="48.25" lengthAdjust="spacingAndGlyphs">LAHSO</text>
<line x1="690.00" y1="791.25" x2="670.14" y2="796.06" stroke="#111" stroke-width="1.1"/>
<polygon points="666.25,797.00 670.69,794.07 671.53,797.57" fill="#111"/>
<text x="504.5" y="969.9" font-size="17.15" textLength="31.0" lengthAdjust="spacingAndGlyphs">ELEV</text>
<text x="507.5" y="985.4" font-size="17.15" textLength="25.0" lengthAdjust="spacingAndGlyphs">130</text>
<text x="365" y="939.15" font-size="17.15" textLength="85" lengthAdjust="spacingAndGlyphs">FAA SAFETY</text>
<text x="379.5" y="955.4" font-size="17.15" textLength="55.0" lengthAdjust="spacingAndGlyphs">CENTER</text>
<line x1="402.50" y1="923.75" x2="396.40" y2="902.80" stroke="#111" stroke-width="1.1"/>
<polygon points="395.00,898.00 398.79,903.15 394.57,904.38" fill="#111"/>
<text x="427.8" y="1034.4" font-size="17.15" textLength="72.5" lengthAdjust="spacingAndGlyphs">2208 X 60</text>
<text x="535.4" y="1034.4" font-size="17.15" textLength="47.3" lengthAdjust="spacingAndGlyphs">276.4°</text>
<line x1="532.70" y1="1027.80" x2="527.60" y2="1027.80" stroke="#111" stroke-width="1.1"/>
<polygon points="524.60,1027.80 528.60,1026.30 528.60,1029.30" fill="#111"/>
<text x="420.5" y="1061.2" font-size="17.15" textLength="47.3" lengthAdjust="spacingAndGlyphs">096.4°</text>
<line x1="467.80" y1="1056.20" x2="473.00" y2="1056.20" stroke="#111" stroke-width="1.1"/>
<polygon points="476.00,1056.20 472.00,1057.70 472.00,1054.70" fill="#111"/>
<text x="350.3" y="1068.8" font-size="17.15" textLength="31.1" lengthAdjust="spacingAndGlyphs">ELEV</text>
<text x="353.8" y="1085.0" font-size="17.15" textLength="25.4" lengthAdjust="spacingAndGlyphs">128</text>
<text x="540.8" y="1088.2" font-size="17.15" textLength="31.9" lengthAdjust="spacingAndGlyphs">ELEV</text>
<text x="545.7" y="1103.9" font-size="17.15" textLength="23.5" lengthAdjust="spacingAndGlyphs">131</text>
<rect x="861.75" y="797.5" width="55.75" height="60.75" fill="#fff" stroke="#222" stroke-width="1.2"/>
<text x="869.5" y="816.65" font-size="18.17" textLength="40.5" lengthAdjust="spacingAndGlyphs">FIELD</text>
<text x="871.5" y="835.4" font-size="18.17" textLength="37.0" lengthAdjust="spacingAndGlyphs">ELEV</text>
<text x="876" y="853.4" font-size="18.17" textLength="27" lengthAdjust="spacingAndGlyphs">142</text>
<line x1="879.50" y1="797.50" x2="853.39" y2="769.18" stroke="#111" stroke-width="1.1"/>
<polygon points="850.00,765.50 855.54,768.56 852.60,771.27" fill="#111"/>
<text transform="translate(83.40,706.60) rotate(-90)" x="0" y="5.90" font-size="17.15" text-anchor="middle" textLength="9" lengthAdjust="spacingAndGlyphs" class="h">N</text>
<text transform="translate(83.40,706.60) rotate(-90)" x="0" y="5.90" font-size="17.15" text-anchor="middle" textLength="9" lengthAdjust="spacingAndGlyphs">N</text>
<line x1="89.50" y1="701.50" x2="89.50" y2="711.50" stroke="#111" stroke-width="1.1"/>
<text transform="translate(168.00,706.50) rotate(-90)" x="0" y="5.90" font-size="17.15" text-anchor="middle" textLength="11" lengthAdjust="spacingAndGlyphs" class="h">M</text>
<text transform="translate(168.00,706.50) rotate(-90)" x="0" y="5.90" font-size="17.15" text-anchor="middle" textLength="11" lengthAdjust="spacingAndGlyphs">M</text>
<line x1="175.00" y1="700.50" x2="175.00" y2="712.50" stroke="#111" stroke-width="1.1"/>
<text transform="translate(148.90,737.50) rotate(-90)" x="0" y="6.00" font-size="17.44" text-anchor="middle" textLength="16.7" lengthAdjust="spacingAndGlyphs" class="h">A1</text>
<text transform="translate(148.90,737.50) rotate(-90)" x="0" y="6.00" font-size="17.44" text-anchor="middle" textLength="16.7" lengthAdjust="spacingAndGlyphs">A1</text>
<text transform="translate(277.50,738.50) rotate(-90)" x="0" y="5.90" font-size="17.15" text-anchor="middle" textLength="18" lengthAdjust="spacingAndGlyphs" class="h">A2</text>
<text transform="translate(277.50,738.50) rotate(-90)" x="0" y="5.90" font-size="17.15" text-anchor="middle" textLength="18" lengthAdjust="spacingAndGlyphs">A2</text>
<text transform="translate(506.00,737.20) rotate(-90)" x="0" y="5.90" font-size="17.15" text-anchor="middle" textLength="19.5" lengthAdjust="spacingAndGlyphs" class="h">A3</text>
<text transform="translate(506.00,737.20) rotate(-90)" x="0" y="5.90" font-size="17.15" text-anchor="middle" textLength="19.5" lengthAdjust="spacingAndGlyphs">A3</text>
<text transform="translate(146.90,782.70) rotate(-90)" x="0" y="5.90" font-size="17.15" text-anchor="middle" textLength="13" lengthAdjust="spacingAndGlyphs" class="h">P1</text>
<text transform="translate(146.90,782.70) rotate(-90)" x="0" y="5.90" font-size="17.15" text-anchor="middle" textLength="13" lengthAdjust="spacingAndGlyphs">P1</text>
<text transform="translate(277.50,774.20) rotate(-90)" x="0" y="5.90" font-size="17.15" text-anchor="middle" textLength="16.5" lengthAdjust="spacingAndGlyphs" class="h">P2</text>
<text transform="translate(277.50,774.20) rotate(-90)" x="0" y="5.90" font-size="17.15" text-anchor="middle" textLength="16.5" lengthAdjust="spacingAndGlyphs">P2</text>
<text transform="translate(135.60,757.50) rotate(90)" x="0" y="5.90" font-size="17.15" text-anchor="middle" textLength="15" lengthAdjust="spacingAndGlyphs">10</text>
<text transform="translate(855.60,755.70) rotate(-90)" x="0" y="5.90" font-size="17.15" text-anchor="middle" textLength="15" lengthAdjust="spacingAndGlyphs">28</text>
<text transform="translate(396.20,685.40) rotate(-90)" x="0" y="5.90" font-size="17.15" text-anchor="middle" textLength="9.5" lengthAdjust="spacingAndGlyphs" class="h">H</text>
<text transform="translate(396.20,685.40) rotate(-90)" x="0" y="5.90" font-size="17.15" text-anchor="middle" textLength="9.5" lengthAdjust="spacingAndGlyphs">H</text>
<text transform="translate(448.80,624.40) rotate(-75)" x="0" y="5.90" font-size="17.15" text-anchor="middle" textLength="9.5" lengthAdjust="spacingAndGlyphs" class="h">H</text>
<text transform="translate(448.80,624.40) rotate(-75)" x="0" y="5.90" font-size="17.15" text-anchor="middle" textLength="9.5" lengthAdjust="spacingAndGlyphs">H</text>
<text transform="translate(522.30,685.00) rotate(-90)" x="0" y="5.90" font-size="17.15" text-anchor="middle" textLength="11.5" lengthAdjust="spacingAndGlyphs" class="h">G</text>
<text transform="translate(522.30,685.00) rotate(-90)" x="0" y="5.90" font-size="17.15" text-anchor="middle" textLength="11.5" lengthAdjust="spacingAndGlyphs">G</text>
<text transform="translate(639.80,701.60) rotate(-90)" x="0" y="5.90" font-size="17.15" text-anchor="middle" textLength="6" lengthAdjust="spacingAndGlyphs" class="h">J</text>
<text transform="translate(639.80,701.60) rotate(-90)" x="0" y="5.90" font-size="17.15" text-anchor="middle" textLength="6" lengthAdjust="spacingAndGlyphs">J</text>
<text transform="translate(708.20,647.50) rotate(-45)" x="0" y="5.90" font-size="17.15" text-anchor="middle" textLength="9" lengthAdjust="spacingAndGlyphs" class="h">K</text>
<text transform="translate(708.20,647.50) rotate(-45)" x="0" y="5.90" font-size="17.15" text-anchor="middle" textLength="9" lengthAdjust="spacingAndGlyphs">K</text>
<text transform="translate(708.75,677.50) rotate(-45)" x="0" y="5.90" font-size="17.15" text-anchor="middle" textLength="9" lengthAdjust="spacingAndGlyphs" class="h">B</text>
<text transform="translate(708.75,677.50) rotate(-45)" x="0" y="5.90" font-size="17.15" text-anchor="middle" textLength="9" lengthAdjust="spacingAndGlyphs">B</text>
<text transform="translate(780.80,629.20) rotate(45)" x="0" y="5.90" font-size="17.15" text-anchor="middle" textLength="15.5" lengthAdjust="spacingAndGlyphs" class="h">B2</text>
<text transform="translate(780.80,629.20) rotate(45)" x="0" y="5.90" font-size="17.15" text-anchor="middle" textLength="15.5" lengthAdjust="spacingAndGlyphs">B2</text>
<text transform="translate(806.30,629.60) rotate(-135)" x="0" y="5.90" font-size="17.15" text-anchor="middle" textLength="15.5" lengthAdjust="spacingAndGlyphs" class="h">23</text>
<text transform="translate(806.30,629.60) rotate(-135)" x="0" y="5.90" font-size="17.15" text-anchor="middle" textLength="15.5" lengthAdjust="spacingAndGlyphs">23</text>
<text transform="translate(737.50,676.30) rotate(-45)" x="0" y="5.90" font-size="17.15" text-anchor="middle" textLength="76" lengthAdjust="spacingAndGlyphs" class="h">5000 X 150</text>
<text transform="translate(737.50,676.30) rotate(-45)" x="0" y="5.90" font-size="17.15" text-anchor="middle" textLength="76" lengthAdjust="spacingAndGlyphs">5000 X 150</text>
<text transform="translate(783.50,674.60) rotate(-45)" x="0" y="5.90" font-size="17.15" text-anchor="middle" textLength="47" lengthAdjust="spacingAndGlyphs" class="h">231.3°</text>
<text transform="translate(783.50,674.60) rotate(-45)" x="0" y="5.90" font-size="17.15" text-anchor="middle" textLength="47" lengthAdjust="spacingAndGlyphs">231.3°</text>
<line x1="766.25" y1="693.75" x2="750.33" y2="709.67" stroke="#111" stroke-width="1.1"/>
<polygon points="747.50,712.50 749.76,707.69 752.31,710.24" fill="#111"/>
<text transform="translate(826.30,671.80) rotate(-45)" x="0" y="5.90" font-size="17.15" text-anchor="middle" textLength="10" lengthAdjust="spacingAndGlyphs" class="h">C</text>
<text transform="translate(826.30,671.80) rotate(-45)" x="0" y="5.90" font-size="17.15" text-anchor="middle" textLength="10" lengthAdjust="spacingAndGlyphs">C</text>
<text transform="translate(843.60,737.80) rotate(-90)" x="0" y="5.90" font-size="17.15" text-anchor="middle" textLength="9.5" lengthAdjust="spacingAndGlyphs" class="h">C</text>
<text transform="translate(843.60,737.80) rotate(-90)" x="0" y="5.90" font-size="17.15" text-anchor="middle" textLength="9.5" lengthAdjust="spacingAndGlyphs">C</text>
<text transform="translate(846.50,787.20) rotate(-90)" x="0" y="5.90" font-size="17.15" text-anchor="middle" textLength="16" lengthAdjust="spacingAndGlyphs" class="h">D1</text>
<text transform="translate(846.50,787.20) rotate(-90)" x="0" y="5.90" font-size="17.15" text-anchor="middle" textLength="16" lengthAdjust="spacingAndGlyphs">D1</text>
<text transform="translate(590.20,798.40) rotate(-45)" x="0" y="5.90" font-size="17.15" text-anchor="middle" textLength="9" lengthAdjust="spacingAndGlyphs" class="h">B</text>
<text transform="translate(590.20,798.40) rotate(-45)" x="0" y="5.90" font-size="17.15" text-anchor="middle" textLength="9" lengthAdjust="spacingAndGlyphs">B</text>
<text transform="translate(649.20,739.60) rotate(-45)" x="0" y="5.90" font-size="17.15" text-anchor="middle" textLength="9" lengthAdjust="spacingAndGlyphs" class="h">B</text>
<text transform="translate(649.20,739.60) rotate(-45)" x="0" y="5.90" font-size="17.15" text-anchor="middle" textLength="9" lengthAdjust="spacingAndGlyphs">B</text>
<text transform="translate(540.00,848.20) rotate(-45)" x="0" y="5.90" font-size="17.15" text-anchor="middle" textLength="9" lengthAdjust="spacingAndGlyphs" class="h">B</text>
<text transform="translate(540.00,848.20) rotate(-45)" x="0" y="5.90" font-size="17.15" text-anchor="middle" textLength="9" lengthAdjust="spacingAndGlyphs">B</text>
<text transform="translate(510.00,870.20) rotate(45)" x="0" y="5.90" font-size="17.15" text-anchor="middle" textLength="16" lengthAdjust="spacingAndGlyphs" class="h">B3</text>
<text transform="translate(510.00,870.20) rotate(45)" x="0" y="5.90" font-size="17.15" text-anchor="middle" textLength="16" lengthAdjust="spacingAndGlyphs">B3</text>
<text transform="translate(494.80,917.20) rotate(45)" x="0" y="5.90" font-size="17.15" text-anchor="middle" textLength="15" lengthAdjust="spacingAndGlyphs" class="h">B1</text>
<text transform="translate(494.80,917.20) rotate(45)" x="0" y="5.90" font-size="17.15" text-anchor="middle" textLength="15" lengthAdjust="spacingAndGlyphs">B1</text>
<text transform="translate(494.40,940.00) rotate(45)" x="0" y="5.90" font-size="17.15" text-anchor="middle" textLength="8" lengthAdjust="spacingAndGlyphs" class="h">5</text>
<text transform="translate(494.40,940.00) rotate(45)" x="0" y="5.90" font-size="17.15" text-anchor="middle" textLength="8" lengthAdjust="spacingAndGlyphs">5</text>
<text transform="translate(556.90,900.60) rotate(-45)" x="0" y="5.90" font-size="17.15" text-anchor="middle" textLength="47" lengthAdjust="spacingAndGlyphs" class="h">051.3°</text>
<text transform="translate(556.90,900.60) rotate(-45)" x="0" y="5.90" font-size="17.15" text-anchor="middle" textLength="47" lengthAdjust="spacingAndGlyphs">051.3°</text>
<line x1="577.50" y1="885.00" x2="594.12" y2="869.02" stroke="#111" stroke-width="1.1"/>
<polygon points="597.00,866.25 594.64,871.01 592.15,868.42" fill="#111"/>
<text transform="translate(438.20,804.60) rotate(-90)" x="0" y="5.90" font-size="17.15" text-anchor="middle" textLength="7" lengthAdjust="spacingAndGlyphs" class="h">F</text>
<text transform="translate(438.20,804.60) rotate(-90)" x="0" y="5.90" font-size="17.15" text-anchor="middle" textLength="7" lengthAdjust="spacingAndGlyphs">F</text>
<text transform="translate(754.60,878.10) rotate(-90)" x="0" y="5.90" font-size="17.15" text-anchor="middle" textLength="9" lengthAdjust="spacingAndGlyphs" class="h">S</text>
<text transform="translate(754.60,878.10) rotate(-90)" x="0" y="5.90" font-size="17.15" text-anchor="middle" textLength="9" lengthAdjust="spacingAndGlyphs">S</text>
<text transform="translate(754.20,935.60) rotate(-90)" x="0" y="5.90" font-size="17.15" text-anchor="middle" textLength="16.5" lengthAdjust="spacingAndGlyphs" class="h">E2</text>
<text transform="translate(754.20,935.60) rotate(-90)" x="0" y="5.90" font-size="17.15" text-anchor="middle" textLength="16.5" lengthAdjust="spacingAndGlyphs">E2</text>
<text transform="translate(799.00,935.60) rotate(-90)" x="0" y="5.90" font-size="17.15" text-anchor="middle" textLength="16.5" lengthAdjust="spacingAndGlyphs" class="h">E3</text>
<text transform="translate(799.00,935.60) rotate(-90)" x="0" y="5.90" font-size="17.15" text-anchor="middle" textLength="16.5" lengthAdjust="spacingAndGlyphs">E3</text>
<text transform="translate(588.90,995.50) rotate(-90)" x="0" y="5.90" font-size="17.15" text-anchor="middle" textLength="12.5" lengthAdjust="spacingAndGlyphs" class="h">E1</text>
<text transform="translate(588.90,995.50) rotate(-90)" x="0" y="5.90" font-size="17.15" text-anchor="middle" textLength="12.5" lengthAdjust="spacingAndGlyphs">E1</text>
<text transform="translate(837.40,911.20) rotate(-45)" x="0" y="5.90" font-size="17.15" text-anchor="middle" textLength="8" lengthAdjust="spacingAndGlyphs" class="h">E</text>
<text transform="translate(837.40,911.20) rotate(-45)" x="0" y="5.90" font-size="17.15" text-anchor="middle" textLength="8" lengthAdjust="spacingAndGlyphs">E</text>
<text transform="translate(367.90,1040.60) rotate(90)" x="0" y="5.90" font-size="17.15" text-anchor="middle" textLength="7" lengthAdjust="spacingAndGlyphs" class="h">8</text>
<text transform="translate(367.90,1040.60) rotate(90)" x="0" y="5.90" font-size="17.15" text-anchor="middle" textLength="7" lengthAdjust="spacingAndGlyphs">8</text>
<text transform="translate(571.50,1046.00) rotate(-90)" x="0" y="5.90" font-size="17.15" text-anchor="middle" textLength="17" lengthAdjust="spacingAndGlyphs" class="h">26</text>
<text transform="translate(571.50,1046.00) rotate(-90)" x="0" y="5.90" font-size="17.15" text-anchor="middle" textLength="17" lengthAdjust="spacingAndGlyphs">26</text>
<path d="M435.55,888.25 L441.95,894.25 M435.55,894.25 L441.95,888.25" stroke="#111" stroke-width="1.3"/>
<path d="M455.55,899 L461.95,905 M455.55,905 L461.95,899" stroke="#111" stroke-width="1.3"/>
<path d="M475.05,909 L481.45,915 M475.05,915 L481.45,909" stroke="#111" stroke-width="1.3"/>
<line x1="630.2" y1="765.2" x2="672.5" y2="806.2" stroke="#111" stroke-width="1.1" stroke-dasharray="3,2.2"/>
<polygon points="433.70,592.40 435.40,595.65 439.03,596.27 436.46,598.90 436.99,602.53 433.70,600.90 430.41,602.53 430.94,598.90 428.37,596.27 432.00,595.65" fill="none" stroke="#111" stroke-width="1.3"/>
<rect x="379.2" y="1038.6" width="182.7" height="4.9" fill="#ddd" stroke="#111" stroke-width="1.1"/>
<line x1="381" y1="1041" x2="560" y2="1041" stroke="#555" stroke-width="0.9" stroke-dasharray="0.9,5"/>
<path d="M409.2,1007.60 Q399.7,1018.54 409.2,1029.47 Q418.7,1018.54 409.2,1007.60 M409.2,1029.47 Q399.7,1040.40 409.2,1051.34 Q418.7,1040.40 409.2,1029.47 M409.2,1051.34 Q399.7,1062.27 409.2,1073.21 Q418.7,1062.27 409.2,1051.34 " fill="none" stroke="#111" stroke-width="1.1"/>
<path d="M515.1,1007.60 Q505.6,1018.54 515.1,1029.47 Q524.6,1018.54 515.1,1007.60 M515.1,1029.47 Q505.6,1040.40 515.1,1051.34 Q524.6,1040.40 515.1,1029.47 M515.1,1051.34 Q505.6,1062.27 515.1,1073.21 Q524.6,1062.27 515.1,1051.34 " fill="none" stroke="#111" stroke-width="1.1"/>
</svg>
</body></html>
